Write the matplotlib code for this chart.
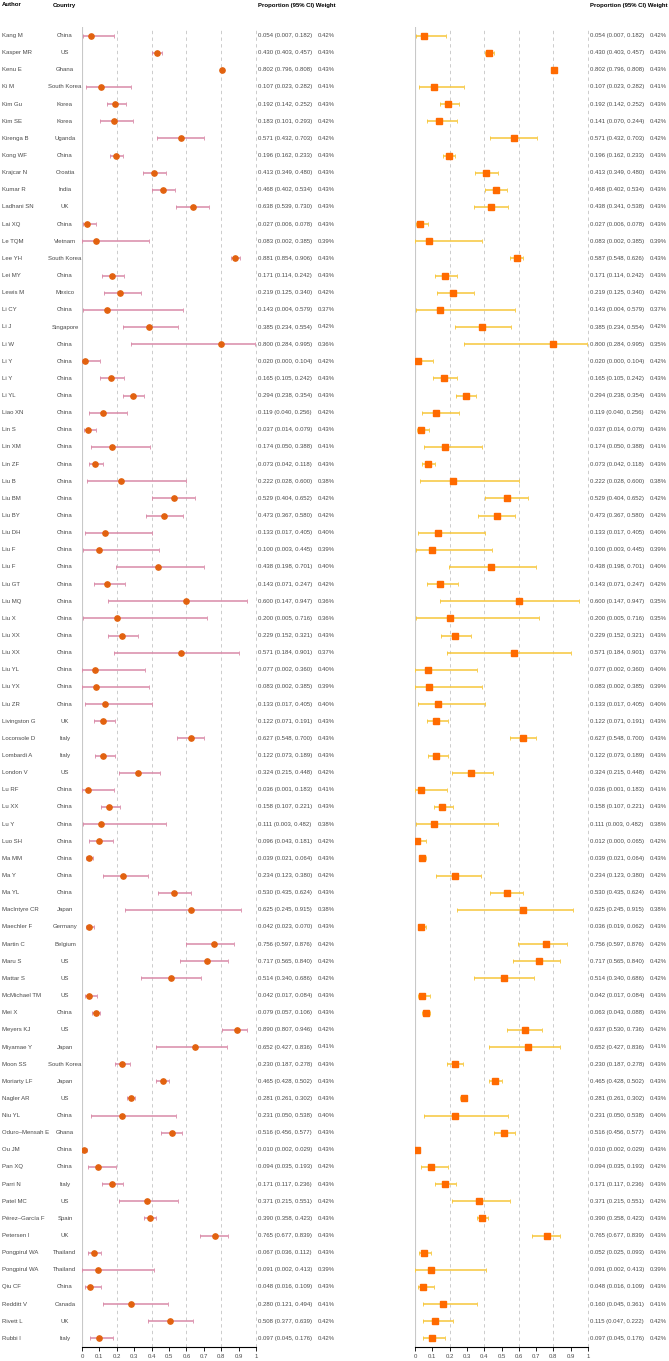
import numpy as np
import matplotlib
matplotlib.use("Agg")
import matplotlib.pyplot as plt

plt.rcParams['font.family'] = ['Liberation Sans', 'DejaVu Sans']

authors = ["Kang M", "Kasper MR", "Kenu E", "Ki M", "Kim Gu", "Kim SE", "Kirenga B",
           "Kong WF", "Krajcar N", "Kumar R", "Ladhani SN", "Lai XQ", "Le TQM", "Lee YH",
           "Lei MY", "Lewis M", "Li CY", "Li J", "Li W", "Li Y", "Li Y", "Li YL", "Liao XN",
           "Lin S", "Lin XM", "Lin ZF", "Liu B", "Liu BM", "Liu BY", "Liu DH", "Liu F",
           "Liu F", "Liu GT", "Liu MQ", "Liu X", "Liu XX", "Liu XX", "Liu YL", "Liu YX",
           "Liu ZR", "Livingston G", "Loconsole D", "Lombardi A", "London V", "Lu RF",
           "Lu XX", "Lu Y", "Luo SH", "Ma MM", "Ma Y", "Ma YL", "MacIntyre CR",
           "Maechler F", "Martin C", "Maru S", "Mattar S", "McMichael TM", "Mei X",
           "Meyers KJ", "Miyamae Y", "Moon SS", "Moriarty LF", "Nagler AR", "Niu YL",
           "Oduro\u2013Mensah E", "Ou JM", "Pan XQ", "Parri N", "Patel MC",
           "P\u00e9rez\u2013Garc\u00eda F", "Petersen I", "Pongpirul WA", "Pongpirul WA",
           "Qiu CF", "Redditt V", "Rivett L", "Rubbi I"]

countries = ["China", "US", "Ghana", "South Korea", "Korea", "Korea", "Uganda", "China",
             "Croatia", "India", "UK", "China", "Vietnam", "South Korea", "China", "Mexico",
             "China", "Singapore", "China", "China", "China", "China", "China", "China",
             "China", "China", "China", "China", "China", "China", "China", "China", "China",
             "China", "China", "China", "China", "China", "China", "China", "UK", "Italy",
             "Italy", "US", "China", "China", "China", "China", "China", "China", "China",
             "Japan", "Germany", "Belgium", "US", "US", "US", "China", "US", "Japan",
             "South Korea", "Japan", "US", "China", "Ghana", "China", "China", "Italy", "US",
             "Spain", "UK", "Thailand", "Thailand", "China", "Canada", "UK", "Italy"]

# left panel
est1 = [0.054, 0.430, 0.802, 0.107, 0.192, 0.183, 0.571, 0.196, 0.413, 0.468, 0.638,
        0.027, 0.083, 0.881, 0.171, 0.219, 0.143, 0.385, 0.800, 0.020, 0.165, 0.294,
        0.119, 0.037, 0.174, 0.073, 0.222, 0.529, 0.473, 0.133, 0.100, 0.438, 0.143,
        0.600, 0.200, 0.229, 0.571, 0.077, 0.083, 0.133, 0.122, 0.627, 0.122, 0.324,
        0.036, 0.158, 0.111, 0.096, 0.039, 0.234, 0.530, 0.625, 0.042, 0.756, 0.717,
        0.514, 0.042, 0.079, 0.890, 0.652, 0.230, 0.465, 0.281, 0.231, 0.516, 0.010,
        0.094, 0.171, 0.371, 0.390, 0.765, 0.067, 0.091, 0.048, 0.280, 0.508, 0.097]
lo1 = [0.007, 0.403, 0.796, 0.023, 0.142, 0.101, 0.432, 0.162, 0.349, 0.402, 0.539,
       0.006, 0.002, 0.854, 0.114, 0.125, 0.004, 0.234, 0.284, 0.000, 0.105, 0.238,
       0.040, 0.014, 0.050, 0.042, 0.028, 0.404, 0.367, 0.017, 0.003, 0.198, 0.071,
       0.147, 0.005, 0.152, 0.184, 0.002, 0.002, 0.017, 0.071, 0.548, 0.073, 0.215,
       0.001, 0.107, 0.003, 0.043, 0.021, 0.123, 0.435, 0.245, 0.023, 0.597, 0.565,
       0.340, 0.017, 0.057, 0.807, 0.427, 0.187, 0.428, 0.261, 0.050, 0.456, 0.002,
       0.035, 0.117, 0.215, 0.358, 0.677, 0.036, 0.002, 0.016, 0.121, 0.377, 0.045]
hi1 = [0.182, 0.457, 0.808, 0.282, 0.252, 0.293, 0.703, 0.233, 0.480, 0.534, 0.730,
       0.078, 0.385, 0.906, 0.242, 0.340, 0.579, 0.554, 0.995, 0.104, 0.242, 0.354,
       0.256, 0.079, 0.388, 0.118, 0.600, 0.652, 0.580, 0.405, 0.445, 0.701, 0.247,
       0.947, 0.716, 0.321, 0.901, 0.360, 0.385, 0.405, 0.191, 0.700, 0.189, 0.448,
       0.183, 0.221, 0.482, 0.181, 0.064, 0.380, 0.624, 0.915, 0.070, 0.876, 0.840,
       0.686, 0.084, 0.106, 0.946, 0.836, 0.278, 0.502, 0.302, 0.538, 0.577, 0.029,
       0.193, 0.236, 0.551, 0.423, 0.839, 0.112, 0.413, 0.109, 0.494, 0.639, 0.176]
w1 = [0.42, 0.43, 0.43, 0.41, 0.43, 0.42, 0.42, 0.43, 0.43, 0.43, 0.43, 0.43, 0.39,
      0.43, 0.43, 0.42, 0.37, 0.42, 0.36, 0.42, 0.43, 0.43, 0.42, 0.43, 0.41, 0.43,
      0.38, 0.42, 0.42, 0.40, 0.39, 0.40, 0.42, 0.36, 0.36, 0.43, 0.37, 0.40, 0.39,
      0.40, 0.43, 0.43, 0.43, 0.42, 0.41, 0.43, 0.38, 0.42, 0.43, 0.42, 0.43, 0.38,
      0.43, 0.42, 0.42, 0.42, 0.43, 0.43, 0.42, 0.41, 0.43, 0.43, 0.43, 0.40, 0.43,
      0.43, 0.42, 0.43, 0.42, 0.43, 0.43, 0.43, 0.39, 0.43, 0.41, 0.42, 0.42]

# right panel (a few studies differ)
est2 = list(est1)
lo2 = list(lo1)
hi2 = list(hi1)
w2 = list(w1)
changes = {5: (0.141, 0.070, 0.244), 10: (0.438, 0.341, 0.538), 13: (0.587, 0.548, 0.626),
           47: (0.012, 0.000, 0.065), 52: (0.036, 0.019, 0.062), 57: (0.063, 0.043, 0.088),
           58: (0.637, 0.530, 0.736), 71: (0.052, 0.025, 0.093), 74: (0.160, 0.045, 0.361),
           75: (0.115, 0.047, 0.222)}
for k, (e, l, h) in changes.items():
    est2[k], lo2[k], hi2[k] = e, l, h
for k in [18, 33, 34]:
    w2[k] = 0.35

W, H = 669, 1361
fig = plt.figure(figsize=(W / 100, H / 100), dpi=100)
fs = 4.3
tc = '#4a4a4a'

ax1 = fig.add_axes([82 / W, 14 / H, 174 / W, 1320 / H])
ax2 = fig.add_axes([415 / W, 14 / H, 173 / W, 1320 / H])

n = len(authors)
y = np.arange(n)


def panel(ax, est, lo, hi, w, mcol, ecol, marker):
    est = np.array(est)
    lo = np.array(lo)
    hi = np.array(hi)
    ax.set_xlim(0, 1)
    ax.set_ylim(n - 0.5, -0.5)
    for s in ['top', 'right', 'left']:
        ax.spines[s].set_visible(False)
    ax.spines['bottom'].set_linewidth(0.8)
    ax.set_yticks([])
    ax.set_xticks(np.arange(0, 1.01, 0.1))
    ax.set_xticklabels(['0', '0.1', '0.2', '0.3', '0.4', '0.5', '0.6', '0.7', '0.8', '0.9', '1'])
    ax.tick_params(axis='x', labelsize=fs, length=3, width=0.6, pad=2, labelcolor=tc)
    ax.axvline(0, color='#c8c8c8', lw=0.8, zorder=0)
    for g in [0.2, 0.4, 0.6, 0.8, 1.0]:
        ax.axvline(g, color='#c4c4c4', lw=0.6, ls=(0, (4, 4)), zorder=0, clip_on=False)
    ax.errorbar(est, y, xerr=[est - lo, hi - est], fmt='none', ecolor=ecol,
                elinewidth=1.1, capsize=1.6, capthick=0.6, zorder=2)
    ax.plot(est, y, marker, color=mcol, markersize=3.8, zorder=3)
    for i in range(n):
        ax.text(1.01, i, "%.3f (%.3f, %.3f)" % (est[i], lo[i], hi[i]), fontsize=fs,
                color=tc, va='center', ha='left', clip_on=False)
        ax.text(1.355, i, "%.2f%%" % w[i], fontsize=fs, color=tc, va='center',
                ha='left', clip_on=False)


panel(ax1, est1, lo1, hi1, w1, '#e2620f', '#d98aa8', 'o')
panel(ax2, est2, lo2, hi2, w2, '#ff6a00', '#f7c63a', 's')

for i in range(n):
    ax1.text(-0.46, i, authors[i], fontsize=fs, color=tc, va='center', ha='left', clip_on=False)
    ax1.text(-0.098, i, countries[i], fontsize=fs, color=tc, va='center', ha='center',
             clip_on=False)

hy = 1 - 5 / H
fig.text(2 / W, hy, 'Author', fontsize=fs, fontweight='bold', va='center')
fig.text(53 / W, hy, 'Country', fontsize=fs, fontweight='bold', va='center')
fig.text(258 / W, hy, 'Proportion (95% CI) Weight', fontsize=fs, fontweight='bold', va='center')
fig.text(590 / W, hy, 'Proportion (95% CI) Weight', fontsize=fs, fontweight='bold', va='center')

fig.savefig('out.png', dpi=100)
